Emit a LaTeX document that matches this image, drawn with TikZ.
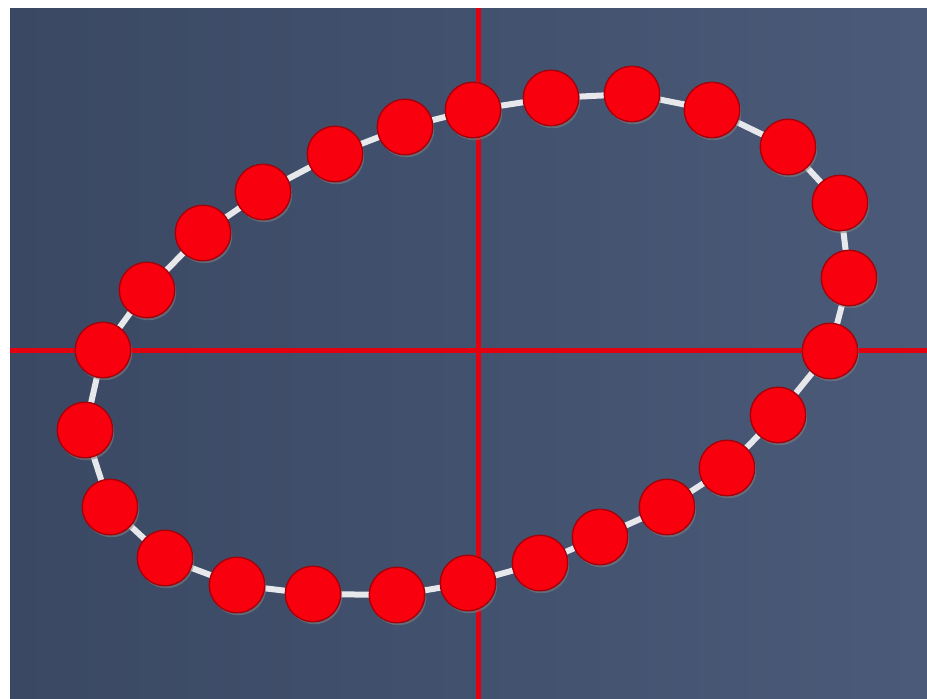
\documentclass[tikz,border=0pt]{standalone}
\usepackage{tikz}
\usetikzlibrary{backgrounds, shadows}
\usepackage{xcolor}
\definecolor{BgD}   {HTML}{3A4863}
\definecolor{BgL}   {HTML}{4A5A78}
\definecolor{AxR}   {HTML}{E3000F}
\definecolor{BeadR} {HTML}{F8000E}
\definecolor{BeadE} {HTML}{A8000A}
\definecolor{LinkW} {HTML}{E6E8EC}
\tikzset{
  bead/.style={
    circle, fill=BeadR, draw=BeadE, line width=1.4pt,
    minimum size=55.5pt, inner sep=0pt,
    drop shadow={shadow xshift=1.5pt, shadow yshift=-2.5pt, opacity=0.55},
  },
  link/.style={
    line width=6pt, color=LinkW,
  },
  axis/.style={
    line width=5pt, color=AxR,
  },
}

\begin{document}
\begin{tikzpicture}[x=1pt,y=-1pt]
  \useasboundingbox (0,0) rectangle (927,699);
  % backdrop and red axes
  \begin{pgfonlayer}{background}
    \fill[white] (0,0) rectangle (927,699);
    \shade[left color=BgD, right color=BgL] (10,8) rectangle (927,699);
    \draw[axis] (478,8) -- (478,699);
    \draw[axis] (10,350) -- (927,350);
  \end{pgfonlayer}
  % beads
  \foreach \n/\x/\y in {1/103/350, 2/147/290, 3/203/233, 4/263/192, 5/335/154,
      6/405/127, 7/473/110, 8/551/98, 9/632/94, 10/712/110, 11/788/147,
      12/840/203, 13/849/278, 14/830/351, 15/778/415, 16/727/468,
      17/667/507, 18/600/537, 19/540/563, 20/468/583, 21/397/595,
      22/313/594, 23/237/585, 24/165/558, 25/110/507, 26/85/430}
    \node[bead] (b\n) at (\x,\y) {};
  % string between beads
  \begin{pgfonlayer}{background}
    \foreach \i [evaluate=\i as \j using {int(mod(\i,26)+1)}] in {1,...,26}
      \draw[link] (b\i.center) -- (b\j.center);
  \end{pgfonlayer}
\end{tikzpicture}
\end{document}
